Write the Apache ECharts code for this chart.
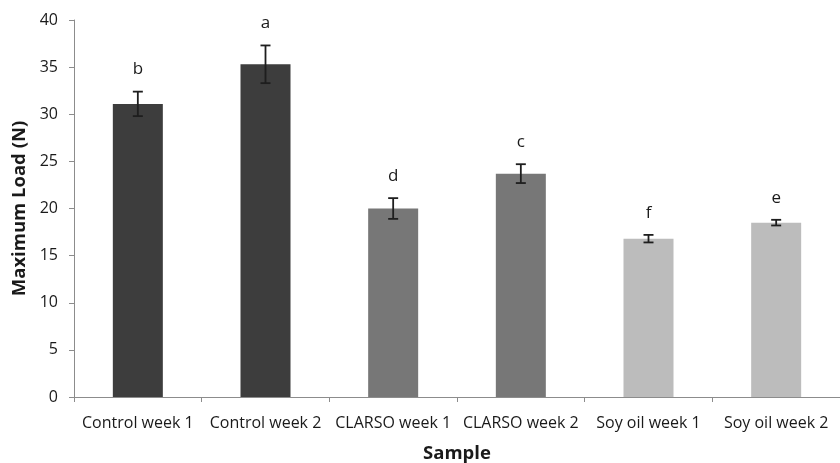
<!DOCTYPE html>
<html>
<head>
<meta charset="utf-8">
<script src="https://cdn.jsdelivr.net/npm/echarts@6/dist/echarts.min.js"></script>
<style>html,body{margin:0;padding:0;background:#fff}#c{width:840px;height:463px}</style>
</head>
<body>
<div id="c"></div>
<script>
var categories = ['Control week 1', 'Control week 2', 'CLARSO week 1', 'CLARSO week 2', 'Soy oil week 1', 'Soy oil week 2'];
var means = [31.1, 35.3, 20.0, 23.7, 16.8, 18.5];
var errors = [1.3, 2.0, 1.1, 1.0, 0.4, 0.3];
var letters = ['b', 'a', 'd', 'c', 'f', 'e'];
var barColors = ['#3d3d3d', '#3d3d3d', '#777777', '#777777', '#bcbcbc', '#bcbcbc'];
var yTicks = [0, 5, 10, 15, 20, 25, 30, 35, 40];

var FONT = 'Open Sans';
var chart = echarts.init(document.getElementById('c'));
var errData = categories.map(function (c, i) { return [i, means[i] - errors[i], means[i] + errors[i], letters[i]]; });

chart.setOption({
  animation: false,
  backgroundColor: '#fff',
  grid: { left: 74, right: 0, top: 20, bottom: 66, containLabel: false, outerBoundsMode: 'none' },
  xAxis: {
    type: 'category',
    data: categories,
    name: 'Sample',
    nameLocation: 'middle',
    nameGap: 47,
    nameTextStyle: { fontFamily: FONT, fontWeight: 'bold', fontSize: 18.5, color: '#1a1a1a' },
    axisLine: { lineStyle: { color: '#8c8c8c', width: 1 } },
    axisTick: { show: true, length: 5, alignWithLabel: false, lineStyle: { color: '#8c8c8c' } },
    axisLabel: { fontFamily: FONT, fontSize: 16, color: '#1a1a1a', margin: 18, interval: 0 }
  },
  yAxis: {
    type: 'value',
    min: yTicks[0],
    max: yTicks[yTicks.length - 1],
    interval: 5,
    name: 'Maximum Load (N)',
    nameLocation: 'middle',
    nameGap: 42,
    nameRotate: 90,
    nameTextStyle: { fontFamily: FONT, fontWeight: 'bold', fontSize: 18.5, color: '#1a1a1a' },
    axisLine: { show: true, lineStyle: { color: '#8c8c8c', width: 1 } },
    axisTick: { show: true, length: 5, lineStyle: { color: '#8c8c8c' } },
    splitLine: { show: false },
    axisLabel: { fontFamily: FONT, fontSize: 16, color: '#1a1a1a', margin: 16 }
  },
  series: [
    {
      type: 'bar',
      barWidth: 50,
      data: means.map(function (v, i) {
        return { value: v, itemStyle: { color: barColors[i] } };
      })
    },
    {
      type: 'custom',
      data: errData,
      z: 10,
      renderItem: function (params, api) {
        var x = api.value(0);
        var lo = api.coord([x, api.value(1)]);
        var hi = api.coord([x, api.value(2)]);
        var hw = 5;
        var st = { stroke: '#1e1e1e', lineWidth: 1.8 };
        return {
          type: 'group',
          children: [
            { type: 'line', shape: { x1: lo[0], y1: lo[1], x2: hi[0], y2: hi[1] }, style: st },
            { type: 'line', shape: { x1: lo[0] - hw, y1: lo[1], x2: lo[0] + hw, y2: lo[1] }, style: st },
            { type: 'line', shape: { x1: hi[0] - hw, y1: hi[1], x2: hi[0] + hw, y2: hi[1] }, style: st },
            { type: 'text', style: { x: hi[0], y: hi[1] - 22, text: api.value(3), fill: '#1a1a1a', font: '17px "Open Sans"', textAlign: 'center', textVerticalAlign: 'middle' } }
          ]
        };
      }
    }
  ]
});
</script>
</body>
</html>
